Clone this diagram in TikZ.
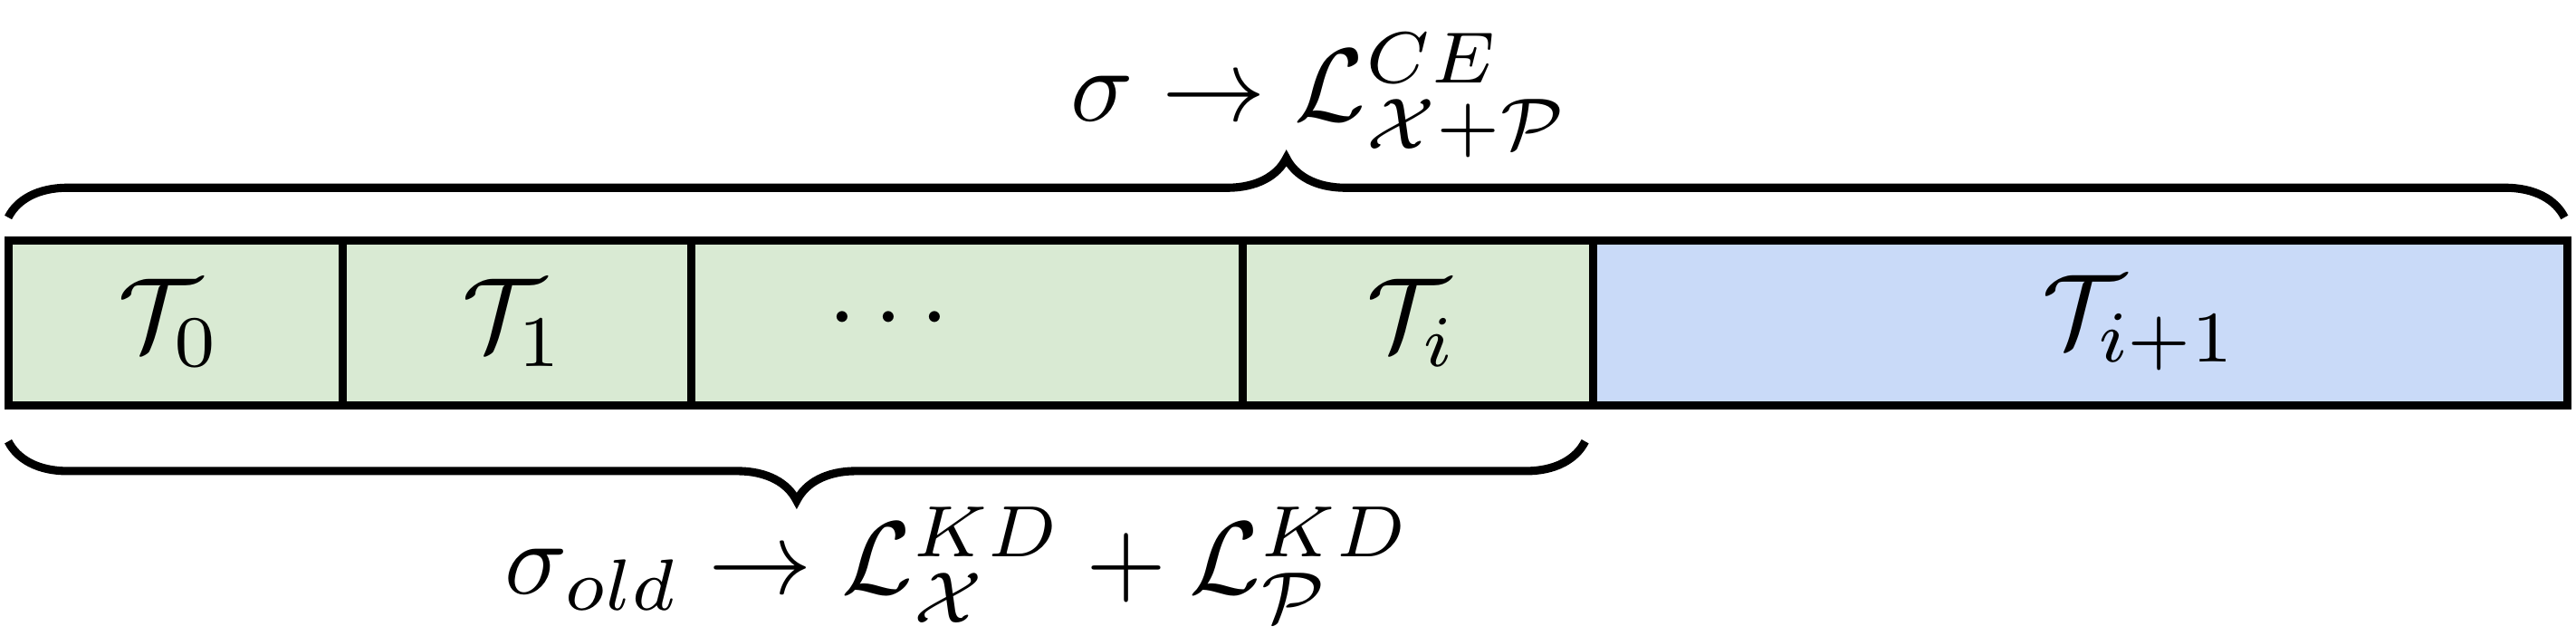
\documentclass[tikz,border=0pt]{standalone}
\usetikzlibrary{decorations.pathreplacing}
\definecolor{gfill}{HTML}{D9EAD3}
\definecolor{bfill}{HTML}{C9DAF8}
\begin{document}
\begin{tikzpicture}[x=1pt,y=-1pt,
  cell/.style={draw=black,line width=5pt},
  lbl/.style={scale=6.3,inner sep=0pt},
  brc/.style={decorate,decoration={brace,amplitude=36pt},line width=5pt}]
\useasboundingbox (0,0) rectangle (1565,386);
\filldraw[cell,fill=gfill] (5,146) rectangle (208,246);
\filldraw[cell,fill=gfill] (208,146) rectangle (420,246);
\filldraw[cell,fill=gfill] (420,146) rectangle (755,246);
\filldraw[cell,fill=gfill] (755,146) rectangle (968,246);
\filldraw[cell,fill=bfill] (968,146) rectangle (1560,246);
\node[lbl] (t0) at (103,196) {$\mathcal{T}_0$};
\node[lbl] (t1) at (312,196) {$\mathcal{T}_1$};
\node[lbl] (td) at (540,194) {$\cdots$};
\node[lbl] (ti) at (858,196) {$\mathcal{T}_i$};
\node[lbl] (tj) at (1300,196) {$\mathcal{T}_{i+1}$};
\coordinate (a1) at (5,132);
\coordinate (a2) at (1558,132);
\coordinate (b1) at (963,268);
\coordinate (b2) at (5,268);
\draw[brc] (a1) -- (a2);
\draw[brc] (b1) -- (b2);
\node[lbl] (top) at (802,58) {$\sigma \rightarrow \mathcal{L}^{CE}_{\mathcal{X}+\mathcal{P}}$};
\node[lbl] (bot) at (582,343) {$\sigma_{old} \rightarrow \mathcal{L}^{KD}_{\mathcal{X}} + \mathcal{L}^{KD}_{\mathcal{P}}$};
\end{tikzpicture}
\end{document}
